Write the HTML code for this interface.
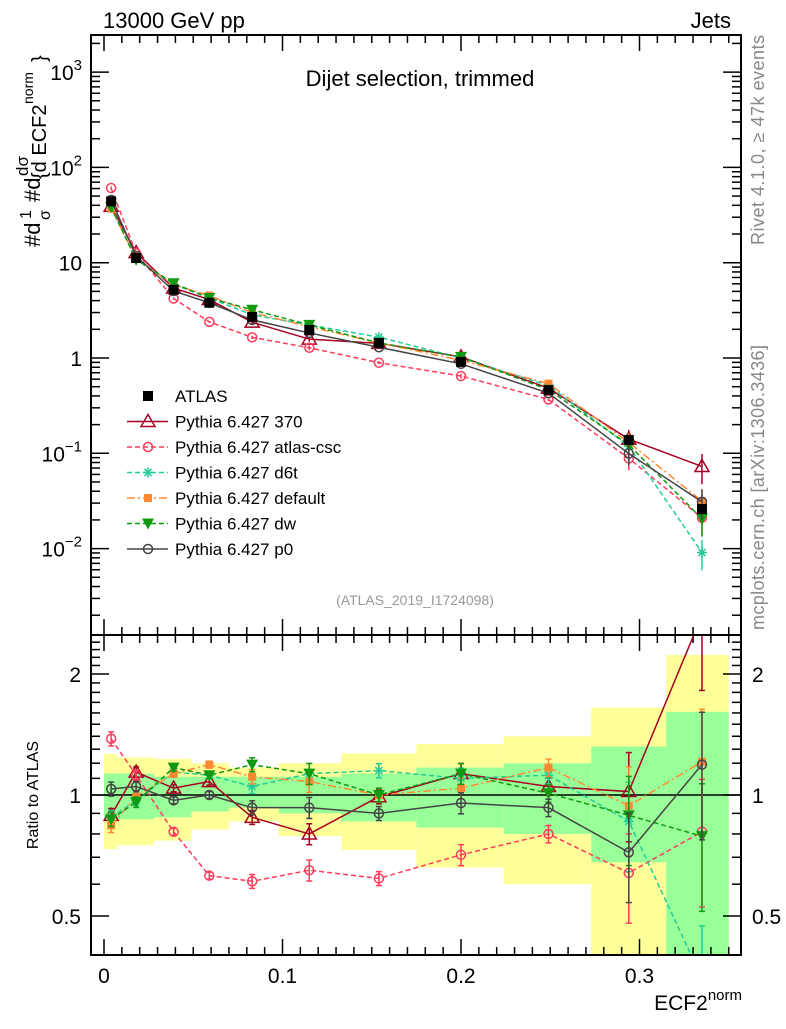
<!DOCTYPE html>
<html><head><meta charset="utf-8"><style>
body{margin:0;background:#fff}
svg text{font-family:"Liberation Sans",sans-serif}
</style></head><body>
<svg id="c" width="786" height="1024" xmlns="http://www.w3.org/2000/svg">
<defs>
<clipPath id="cm"><rect x="91" y="35" width="650" height="600"/></clipPath>
<clipPath id="cr"><rect x="91" y="635" width="650" height="320"/></clipPath>
</defs>
<g id="bands" clip-path="url(#cr)"></g>
<g id="grid"></g>
<g id="series"></g>
<rect x="91" y="35" width="650" height="600" fill="none" stroke="#000" stroke-width="2"/>
<rect x="91" y="635" width="650" height="320" fill="none" stroke="#000" stroke-width="2"/>
<text x="103" y="28" font-size="22">13000 GeV pp</text>
<text x="731" y="28" font-size="22" text-anchor="end">Jets</text>
<text x="420" y="86" font-size="22" text-anchor="middle">Dijet selection, trimmed</text>
<text x="415" y="605" font-size="14" fill="#999" text-anchor="middle">(ATLAS_2019_I1724098)</text>
<text transform="translate(764,245) rotate(-90)" font-size="18" textLength="210" fill="#888">Rivet 4.1.0, ≥ 47k events</text>
<text transform="translate(764,630) rotate(-90)" font-size="18" textLength="285" fill="#888">mcplots.cern.ch [arXiv:1306.3436]</text>
<text transform="translate(38,795) rotate(-90)" font-size="16" text-anchor="middle">Ratio to ATLAS</text>
<g transform="translate(40,247) rotate(-90)">
<text x="0" y="0" font-size="22">#d</text><text x="28" y="-9" font-size="16">1</text><text x="27" y="10" font-size="16">σ</text>
<text x="45" y="0" font-size="22">#d</text><text x="71" y="-12" font-size="17">dσ</text><text x="68" y="6" font-size="20">{d ECF2</text><text x="143" y="-7" font-size="14">norm</text><text x="185" y="6" font-size="20">}</text>
</g>
<text x="742" y="1010" font-size="21" text-anchor="end">ECF2<tspan font-size="15" dy="-10">norm</tspan></text>
<g id="legend"></g>
</svg>
<script>
const edges=[0,0.0073,0.028,0.049,0.070,0.098,0.133,0.175,0.224,0.273,0.315,0.350];
const xc=[0.004,0.018,0.039,0.059,0.083,0.115,0.154,0.2,0.249,0.294,0.335];
const atlas=[44,11.2,5.2,3.8,2.7,1.97,1.44,0.91,0.46,0.138,0.026];
const yelLo=[0.734,0.75,0.77,0.82,0.86,0.79,0.73,0.66,0.60,0.3,0.3];
const yelHi=[1.265,1.24,1.23,1.20,1.17,1.20,1.27,1.34,1.40,1.65,2.23];
const grnLo=[0.87,0.87,0.88,0.91,0.93,0.90,0.86,0.83,0.80,0.68,0.35];
const grnHi=[1.13,1.13,1.11,1.11,1.11,1.11,1.13,1.17,1.20,1.32,1.61];
const r370=[0.89,1.14,1.04,1.08,0.88,0.80,0.99,1.13,1.05,1.02,2.8];
const rCsc=[1.38,1.12,0.81,0.63,0.61,0.65,0.62,0.71,0.80,0.64,0.81];
const rD6t=[0.88,0.97,1.14,1.12,1.05,1.13,1.15,1.10,1.12,0.86,0.35];
const rDef=[0.84,0.99,1.13,1.19,1.11,1.08,1.0,1.04,1.17,0.94,1.21];
const rDw=[0.87,0.96,1.17,1.12,1.19,1.13,1.0,1.13,1.01,0.89,0.79];
const rP0=[1.035,1.05,0.97,1.0,0.93,0.93,0.90,0.955,0.93,0.72,1.19];
const relErr=[0.04,0.03,0.02,0.02,0.04,0.06,0.04,0.06,0.05,0.25,0.35];
const xTicks=[0,0.1,0.2,0.3];
const xTickLabels=["0","0.1","0.2","0.3"];
const yExp=[3,2,1,0,-1,-2];
const rTicks=[2,1,0.5];
const rTickLabels=["2","1","0.5"];

const NS="http://www.w3.org/2000/svg";
const X=v=>104+v*1785;
const Ym=v=>358-95.3*Math.log10(v);
const Yr=r=>795-402*Math.log10(r);
function mk(tag,at,parent){const e=document.createElementNS(NS,tag);for(const k in at)e.setAttribute(k,at[k]);parent.appendChild(e);return e;}
const bands=document.getElementById('bands'),grid=document.getElementById('grid'),ser=document.getElementById('series'),leg=document.getElementById('legend');

for(let i=0;i<xc.length;i++){
 let r=mk('rect',{x:X(edges[i]),y:Yr(yelHi[i]),width:X(edges[i+1])-X(edges[i]),height:Yr(yelLo[i])-Yr(yelHi[i]),fill:'#ffff99'},bands);
 
 
 let g=mk('rect',{x:X(edges[i]),y:Yr(grnHi[i]),width:X(edges[i+1])-X(edges[i]),height:Yr(grnLo[i])-Yr(grnHi[i]),fill:'#99ff99'},bands);
 
 
}
let one=mk('line',{x1:91,x2:741,y1:Yr(1),y2:Yr(1),stroke:'#000','stroke-width':1.5},grid);



for(let v=0;v<=0.355;v+=0.01){
 const major=xTicks.some(t=>Math.abs(t-v)<1e-6);const L=major?16:8;const x=X(v);
 for(const [y0,dir] of [[35,1],[635,-1],[635,1],[955,-1]]) mk('line',{x1:x,x2:x,y1:y0,y2:y0+dir*L,stroke:'#000','stroke-width':1.5},grid);
}
xTicks.forEach((t,i)=>{const e=mk('text',{x:X(t),y:983,'font-size':21,'text-anchor':'middle'},grid);e.textContent=xTickLabels[i];
 
 });
for(let d=-3;d<=3;d++){for(let m=1;m<10;m++){const v=m*Math.pow(10,d);const y=Ym(v);if(y<35||y>635)continue;const L=m==1?18:9;
 mk('line',{x1:91,x2:91+L,y1:y,y2:y,stroke:'#000','stroke-width':1.5},grid);mk('line',{x1:741,x2:741-L,y1:y,y2:y,stroke:'#000','stroke-width':1.5},grid);}}
yExp.forEach(e=>{const y=Ym(Math.pow(10,e));let t;
 t=mk('text',{x:82,y:y+8,'font-size':21,'text-anchor':'end'},grid);
 if(e==1||e==0){t.textContent=e==1?'10':'1';}
 else{t.innerHTML='10<tspan font-size="15" dy="-10">'+(e<0?'−'+(-e):e)+'</tspan>';}
 
 });
[0.4,0.5,0.6,0.7,0.8,0.9,1,1.1,1.2,1.3,1.4,1.5,1.6,1.7,1.8,1.9,2,2.1,2.2,2.3,2.4].forEach(r=>{const y=Yr(r);if(y<636||y>954)return;const L=(r==0.5||r==1||r==2)?18:9;
 mk('line',{x1:91,x2:91+L,y1:y,y2:y,stroke:'#000','stroke-width':1.5},grid);mk('line',{x1:741,x2:741-L,y1:y,y2:y,stroke:'#000','stroke-width':1.5},grid);});
rTicks.forEach((r,i)=>{for(const [x,a] of [[81,'end'],[752,'start']]){const t=mk('text',{x:x,y:Yr(r)+8,'font-size':21,'text-anchor':a},grid);t.textContent=rTickLabels[i];
 
 }});

function marker(p,type,x,y,col){
 const s=5;
 if(type=='sq')mk('rect',{x:x-s,y:y-s,width:2*s,height:2*s,fill:col},p);
 else if(type=='fsq')mk('rect',{x:x-4,y:y-4,width:8,height:8,fill:col},p);
 else if(type=='tri')mk('polygon',{points:`${x},${y-7} ${x-7},${y+5} ${x+7},${y+5}`,fill:'none',stroke:col,'stroke-width':1.5},p);
 else if(type=='dtri')mk('polygon',{points:`${x-6},${y-5} ${x+6},${y-5} ${x},${y+6}`,fill:col},p);
 else if(type=='circ')mk('circle',{cx:x,cy:y,r:4.5,fill:'none',stroke:col,'stroke-width':1.5},p);
 else if(type=='star'){for(const a of [0,45,90,135]){const r=a*Math.PI/180;mk('line',{x1:x-5*Math.cos(r),y1:y-5*Math.sin(r),x2:x+5*Math.cos(r),y2:y+5*Math.sin(r),stroke:col,'stroke-width':1.5},p);}}
}
const series=[
 {name:'Pythia 6.427 370',r:r370,col:'#a50021',m:'tri',dash:''},
 {name:'Pythia 6.427 atlas-csc',r:rCsc,col:'#ff3b5c',m:'circ',dash:'5,3'},
 {name:'Pythia 6.427 d6t',r:rD6t,col:'#22cc99',m:'star',dash:'5,3'},
 {name:'Pythia 6.427 default',r:rDef,col:'#ff8833',m:'fsq',dash:'8,3,2,3'},
 {name:'Pythia 6.427 dw',r:rDw,col:'#119911',m:'dtri',dash:'5,3'},
 {name:'Pythia 6.427 p0',r:rP0,col:'#444444',m:'circ',dash:''}
];
series.forEach(s=>{
 const gm=mk('g',{'clip-path':'url(#cm)'},ser);
 
 
 const gr=mk('g',{'clip-path':'url(#cr)'},ser);
 
 
 const vals=s.r.map((r,i)=>r*atlas[i]);
 mk('polyline',{points:vals.map((v,i)=>X(xc[i])+','+Ym(v)).join(' '),fill:'none',stroke:s.col,'stroke-width':1.5,'stroke-dasharray':s.dash},gm);
 mk('polyline',{points:s.r.map((r,i)=>X(xc[i])+','+Yr(r)).join(' '),fill:'none',stroke:s.col,'stroke-width':1.5,'stroke-dasharray':s.dash},gr);
 vals.forEach((v,i)=>{const x=X(xc[i]);
  mk('line',{x1:x,x2:x,y1:Ym(v*(1+relErr[i])),y2:Ym(v*(1-relErr[i])),stroke:s.col,'stroke-width':1.5},gm);
  marker(gm,s.m,x,Ym(v),s.col);
  const r=s.r[i];
  mk('line',{x1:x,x2:x,y1:Yr(r*(1+relErr[i])),y2:Yr(r*(1-relErr[i])),stroke:s.col,'stroke-width':1.5},gr);
  mk('line',{x1:x-3,x2:x+3,y1:Yr(r*(1+relErr[i])),y2:Yr(r*(1+relErr[i])),stroke:s.col,'stroke-width':1.5},gr);
  mk('line',{x1:x-3,x2:x+3,y1:Yr(r*(1-relErr[i])),y2:Yr(r*(1-relErr[i])),stroke:s.col,'stroke-width':1.5},gr);
  marker(gr,s.m,x,Yr(r),s.col);});
});
const ga=mk('g',{'clip-path':'url(#cm)'},ser);


atlas.forEach((v,i)=>marker(ga,'sq',X(xc[i]),Ym(v),'#000'));

const lg=[{name:'ATLAS',col:'#000',m:'sq',dash:null}].concat(series);
lg.forEach((s,i)=>{const y=396+i*25.5;
 const g=mk('g',{},leg);
 
 
 if(s.dash!==null)mk('line',{x1:127,x2:168,y1:y,y2:y,stroke:s.col,'stroke-width':1.5,'stroke-dasharray':s.dash},g);
 marker(g,s.m,148,y,s.col);
 const t=mk('text',{x:175,y:y+6,'font-size':17},g);t.textContent=s.name;});
</script>
</body></html>
